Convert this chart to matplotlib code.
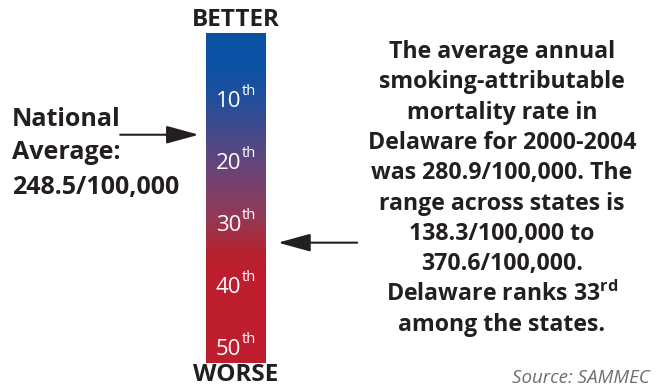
import matplotlib
matplotlib.use("Agg")
import matplotlib.pyplot as plt
import numpy as np
from matplotlib.colors import LinearSegmentedColormap

# ---- data ----
rank_ticks = [10, 20, 30, 40, 50]
rank_suffix = ["th", "th", "th", "th", "th"]
national_rank = 15.6          # position of national average arrow on rank scale
delaware_rank = 33
national_avg_label = ["National", "Average:", "248.5/100,000"]
info_lines = ["The average annual", "smoking-attributable", "mortality rate in",
              "Delaware for 2000-2004", "was 280.9/100,000. The",
              "range across states is", "138.3/100,000 to", "370.6/100,000.",
              r"Delaware ranks 33$^{\mathbf{rd}}$", "among the states."]
source_text = "Source: SAMMEC"

plt.rcParams['font.family'] = ['Open Sans', 'DejaVu Sans']
plt.rcParams['mathtext.fontset'] = 'custom'
plt.rcParams['mathtext.rm'] = 'Open Sans'
plt.rcParams['mathtext.bf'] = 'Open Sans:bold'

W, H = 661, 388
fig = plt.figure(figsize=(W / 100, H / 100), dpi=100)
fig.patch.set_facecolor("white")

def fx(x):
    return x / W

def fy(y):
    return 1 - y / H

# bar axes
bx0, bx1, by0, by1 = 206, 266, 33, 363
ax = fig.add_axes([fx(bx0), fy(by1), (bx1 - bx0) / W, (by1 - by0) / H])
rank_top, rank_bottom = -0.8, 52.4
cmap = LinearSegmentedColormap.from_list(
    "br", [(0.0, "#0a52a5"), (0.1, "#0b52a4"), (0.22, "#284f99"),
           (0.4, "#66457a"), (0.56, "#943955"), (0.67, "#b5232f"),
           (0.73, "#be1e2d"), (1.0, "#be1e2d")])
grad = np.linspace(0, 1, 400).reshape(-1, 1)
ax.imshow(grad, aspect="auto", cmap=cmap, extent=[0, 1, rank_bottom, rank_top],
          interpolation="bilinear")
ax.set_xlim(0, 1)
ax.set_ylim(rank_bottom, rank_top)
ax.axis("off")

for r, s in zip(rank_ticks, rank_suffix):
    ax.text(0.59, r + 0.2, str(r), color="white", fontsize=16, ha="right",
            va="center", transform=ax.get_yaxis_transform())
    ax.text(0.60, r - 1.4, s, color="white", fontsize=10.5, ha="left",
            va="center", transform=ax.get_yaxis_transform())

fig.text(fx(236), fy(20), "BETTER", fontsize=17.5, fontweight="bold",
         color="#231f20", ha="center", va="center")
fig.text(fx(236), fy(375), "WORSE", fontsize=17.5, fontweight="bold",
         color="#231f20", ha="center", va="center")

# arrows
arrow_kw = dict(arrowstyle="-|>,head_length=2.0,head_width=0.55", color="#231f20",
                lw=1.5, shrinkA=0, shrinkB=0)
ax.annotate("", xy=(-0.12, national_rank), xytext=(-1.43, national_rank),
            xycoords=("axes fraction", "data"), textcoords=("axes fraction", "data"),
            arrowprops=arrow_kw)
ax.annotate("", xy=(1.2, delaware_rank), xytext=(2.52, delaware_rank),
            xycoords=("axes fraction", "data"), textcoords=("axes fraction", "data"),
            arrowprops=arrow_kw)

# left text
for i, line in enumerate(national_avg_label):
    fig.text(fx(12), fy(119 + i * 34), line, fontsize=18, fontweight="bold",
             color="#231f20", ha="left", va="center")

# right text
for i, line in enumerate(info_lines):
    fig.text(fx(502), fy(52 + i * 30.3), line, fontsize=16.7, fontweight="bold",
             color="#231f20", ha="center", va="center")

fig.text(fx(650), fy(378), source_text, fontsize=13.5, style="italic",
         color="#6d6e71", ha="right", va="center")

fig.savefig("out.png", dpi=100, facecolor="white")
